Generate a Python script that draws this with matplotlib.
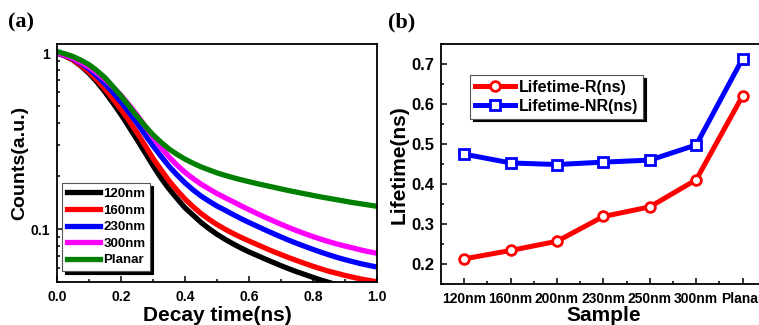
import numpy as np
import matplotlib
matplotlib.use("Agg")
import matplotlib.pyplot as plt
from matplotlib.ticker import MultipleLocator, FixedLocator, NullFormatter

plt.rcParams['font.family'] = ['Liberation Sans', 'DejaVu Sans']
plt.rcParams['font.weight'] = 'bold'
plt.rcParams['axes.labelweight'] = 'bold'

# ---- panel (a): normalized decay curves, read every 0.025 ns
t = [0.0, 0.025, 0.05, 0.075, 0.1, 0.125, 0.15, 0.175, 0.2, 0.225,
     0.25, 0.275, 0.3, 0.325, 0.35, 0.375, 0.4, 0.425, 0.45, 0.475,
     0.5, 0.525, 0.55, 0.575, 0.6, 0.625, 0.65, 0.675, 0.7, 0.725,
     0.75, 0.775, 0.8, 0.825, 0.85, 0.875, 0.9, 0.925, 0.95, 0.975, 1.0]
c120 = [1.000, 0.962, 0.912, 0.843, 0.767, 0.684, 0.600, 0.520, 0.447, 0.380,
        0.322, 0.272, 0.229, 0.195, 0.169, 0.149, 0.132, 0.120, 0.109, 0.1005,
        0.0933, 0.0875, 0.0824, 0.0780, 0.0741, 0.0708, 0.0676, 0.0647, 0.0619, 0.0594,
        0.0571, 0.0551, 0.0531, 0.0513, 0.0497, 0.0482, 0.0468, 0.0455, 0.0443, 0.0432, 0.0421]
c160 = [1.000, 0.964, 0.916, 0.851, 0.780, 0.702, 0.624, 0.548, 0.479, 0.413,
        0.353, 0.299, 0.252, 0.217, 0.188, 0.166, 0.148, 0.134, 0.1225, 0.1135,
        0.106, 0.0998, 0.0944, 0.0897, 0.0855, 0.0817, 0.0780, 0.0746, 0.0716, 0.0687,
        0.0661, 0.0637, 0.0614, 0.0594, 0.0575, 0.0560, 0.0545, 0.0532, 0.0520, 0.0511, 0.0501]
c230 = [1.000, 0.968, 0.929, 0.873, 0.813, 0.740, 0.668, 0.596, 0.527, 0.460,
        0.400, 0.344, 0.297, 0.259, 0.2275, 0.203, 0.183, 0.167, 0.154, 0.144,
        0.135, 0.128, 0.121, 0.1146, 0.1089, 0.1038, 0.0989, 0.0944, 0.0902, 0.0863,
        0.0828, 0.0796, 0.0766, 0.0738, 0.0713, 0.0690, 0.0670, 0.0652, 0.0635, 0.0621, 0.0608]
c300 = [1.000, 0.970, 0.933, 0.883, 0.832, 0.769, 0.708, 0.640, 0.575, 0.507,
        0.445, 0.384, 0.333, 0.290, 0.257, 0.2307, 0.210, 0.1936, 0.180, 0.169,
        0.159, 0.1507, 0.143, 0.1355, 0.1288, 0.1225, 0.1167, 0.1114, 0.1064, 0.1019,
        0.0977, 0.0940, 0.0906, 0.0875, 0.0847, 0.0822, 0.0800, 0.0780, 0.0760, 0.0743, 0.0728]
cplanar = [1.019, 0.989, 0.955, 0.910, 0.859, 0.793, 0.724, 0.644, 0.570, 0.499,
           0.4365, 0.385, 0.343, 0.311, 0.285, 0.2655, 0.2495, 0.2366, 0.2254, 0.2168,
           0.2084, 0.2018, 0.1959, 0.1905, 0.1858, 0.1811, 0.1770, 0.1730, 0.1690, 0.1652,
           0.1618, 0.1585, 0.1552, 0.1521, 0.1493, 0.1466, 0.1439, 0.1413, 0.1390, 0.1368, 0.1346]
curve_labels = ['120nm', '160nm', '230nm', '300nm', 'Planar']
curve_colors = ['black', '#ff0000', '#0000ff', '#ff00ff', '#008000']

# ---- panel (b): lifetimes
samples = ['120nm', '160nm', '200nm', '230nm', '250nm', '300nm', 'Planar']
life_r = [0.213, 0.234, 0.257, 0.319, 0.343, 0.411, 0.621]
life_nr = [0.475, 0.453, 0.449, 0.455, 0.460, 0.498, 0.714]

fig = plt.figure(figsize=(7.59, 3.25), dpi=100)
ax1 = fig.add_axes([0.0751, 0.1323, 0.4216, 0.7323])
ax2 = fig.add_axes([0.581, 0.126, 0.428, 0.738])

for ys, lab, col in zip([c120, c160, c230, c300, cplanar], curve_labels, curve_colors):
    ax1.plot(t, ys, color=col, lw=3.8, label=lab, solid_joinstyle='round')

ax1.set_yscale('log')
ax1.set_xlim(0, 1.0)
ax1.set_ylim(0.05, 1.125)
ax1.xaxis.set_major_locator(MultipleLocator(0.2))
ax1.xaxis.set_minor_locator(MultipleLocator(0.1))
ax1.xaxis.set_major_formatter(plt.FuncFormatter(lambda v, p: f'{v:.1f}'))
ax1.yaxis.set_major_locator(FixedLocator([0.1, 1]))
ax1.yaxis.set_major_formatter(plt.FuncFormatter(lambda v, p: '1' if v >= 1 else '0.1'))
ax1.yaxis.set_minor_locator(FixedLocator([0.05, 0.06, 0.07, 0.08, 0.09, 0.2, 0.3, 0.4,
                                          0.5, 0.6, 0.7, 0.8, 0.9]))
ax1.yaxis.set_minor_formatter(NullFormatter())
ax1.set_xlabel('Decay time(ns)', fontsize=15, labelpad=1)
ax1.set_ylabel('Counts(a.u.)', fontsize=14, labelpad=2)

leg1 = ax1.legend(loc='lower left', bbox_to_anchor=(5 / 320, 11 / 238), borderaxespad=0,
                  fontsize=9.5, handlelength=2.5, handletextpad=0.3, labelspacing=0.33,
                  borderpad=0.35, fancybox=False, framealpha=1, edgecolor='#555555',
                  shadow={'color': 'black', 'alpha': 1})
leg1.get_frame().set_linewidth(0.8)

x = np.arange(len(samples))
ax2.plot(x, life_r, color='#ff0000', lw=3.6, marker='o', ms=7, mfc='white',
         mec='#ff0000', mew=2, label='Lifetime-R(ns)')
ax2.plot(x, life_nr, color='#0000ff', lw=3.6, marker='s', ms=6.5, mfc='white',
         mec='#0000ff', mew=2, label='Lifetime-NR(ns)')
ax2.set_xlim(-0.5, 6.5)
ax2.set_ylim(0.15, 0.75)
ax2.set_xticks(x)
ax2.set_xticklabels(samples)
ax2.xaxis.set_minor_locator(FixedLocator(x[:-1] + 0.5))
ax2.yaxis.set_major_locator(MultipleLocator(0.1))
ax2.yaxis.set_minor_locator(MultipleLocator(0.05))
ax2.set_xlabel('Sample', fontsize=15, labelpad=0)
ax2.set_ylabel('Lifetime(ns)', fontsize=15, labelpad=2)
leg2 = ax2.legend(loc='upper left', bbox_to_anchor=(0.089, 0.871), borderaxespad=0,
                  fontsize=11.5, handlelength=2.5, handletextpad=0.25, labelspacing=0.25,
                  borderpad=0.3, fancybox=False, framealpha=1, edgecolor='#555555',
                  shadow={'color': 'black', 'alpha': 1})
leg2.get_frame().set_linewidth(0.8)

for ax in (ax1, ax2):
    for s in ax.spines.values():
        s.set_linewidth(1.3)
    ax.tick_params(which='both', direction='in', width=1.1, labelsize=10)
    ax.tick_params(which='major', length=4)
    ax.tick_params(which='minor', length=2.5)
    ax.tick_params(axis='x', pad=6)
    ax.tick_params(axis='y', pad=5)
ax2.tick_params(axis='y', labelsize=12)

fig.text(8 / 759, 1 - 22 / 325, '(a)', fontsize=16, fontweight='bold',
         family='Liberation Serif', va='center', ha='left')
fig.text(388 / 759, 1 - 22 / 325, '(b)', fontsize=16, fontweight='bold',
         family='Liberation Serif', va='center', ha='left')

fig.savefig('out.png', dpi=100)
